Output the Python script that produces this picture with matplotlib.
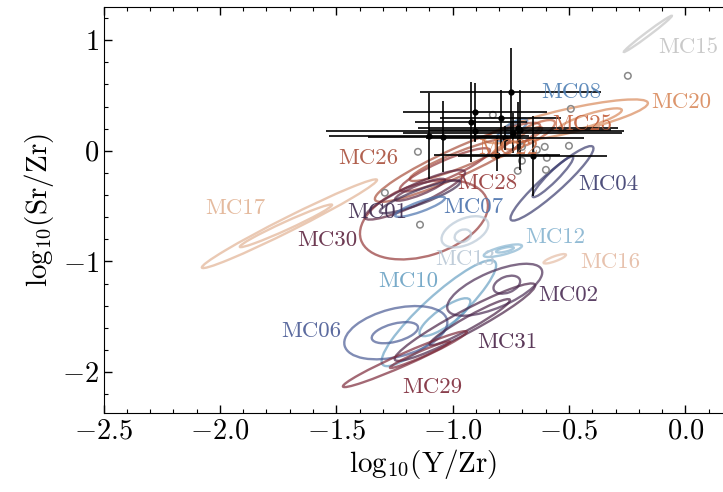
import numpy as np
import matplotlib.pyplot as plt
from matplotlib.patches import Ellipse
from matplotlib.transforms import IdentityTransform

plt.rcParams['font.family'] = 'serif'
plt.rcParams['font.serif'] = ['cmr10']
plt.rcParams['mathtext.fontset'] = 'cm'
plt.rcParams['axes.formatter.use_mathtext'] = True

# contour levels, approximated as ellipses: centre, tip of major axis, half width (px)
ct_id = [15, 20, 20, 8, 8, 25, 25, 22, 26, 26, 28, 28, 30, 30, 1, 17, 17, 4, 4,
         12, 12, 13, 13, 16, 10, 10, 6, 6, 2, 2, 31, 31, 29, 29, 7]
ct_cx = [-0.161, -0.511, -0.410, -0.745, -0.742, -0.668, -0.668, -0.776, -0.979, -0.969,
         -1.033, -1.123, -1.162, -1.140, -1.140, -1.701, -1.716, -0.573, -0.569,
         -0.784, -0.775, -0.947, -0.956, -0.561, -1.059, -1.033, -1.244, -1.248,
         -0.819, -0.767, -0.947, -0.926, -1.205, -1.140, -1.140]
ct_cy = [1.057, 0.266, 0.280, 0.190, 0.199, 0.145, 0.145, 0.009, -0.104, -0.081,
         -0.172, -0.623, -0.398, -0.352, -0.416, -0.659, -0.678, -0.294, -0.235,
         -0.903, -0.894, -0.732, -0.768, -0.976, -1.468, -1.504, -1.644, -1.644,
         -1.256, -1.210, -1.549, -1.549, -1.883, -1.843, -0.506]
ct_tx = [-0.058, -0.161, -0.273, -0.681, -0.711, -0.561, -0.616, -0.720, -0.625, -0.754,
         -0.840, -0.852, -0.947, -1.033, -0.968, -1.325, -1.518, -0.397, -0.483,
         -0.702, -0.737, -0.849, -0.922, -0.513, -0.818, -0.926, -1.024, -1.149,
         -0.617, -0.711, -0.646, -0.754, -0.939, -1.011, -1.033]
ct_ty = [1.220, 0.434, 0.370, 0.280, 0.235, 0.262, 0.208, 0.072, 0.235, 0.099,
         0.009, -0.443, -0.190, -0.262, -0.280, -0.262, -0.488, 0.036, -0.054,
         -0.858, -0.876, -0.641, -0.741, -0.939, -1.003, -1.346, -1.527, -1.590,
         -1.075, -1.165, -1.210, -1.346, -1.635, -1.725, -0.425]
ct_hw = [2, 12, 6, 6, 3, 8, 4, 5, 14, 8, 9, 36, 10, 5, 7, 7, 4, 10, 5,
         4, 2, 13, 6, 2.5, 17, 9, 24, 9, 18, 8, 11, 6, 6, 3, 5]

# cluster labels
lab_id = [15, 20, 8, 25, 22, 26, 28, 4, 17, 1, 7, 30, 12, 13, 16, 10, 2, 6, 31, 29]
lab_x = [0.011, -0.019, -0.488, -0.445, -0.763, -1.364, -0.853, -0.333, -1.935, -1.325,
         -0.909, -1.540, -0.561, -0.947, -0.324, -1.192, -0.505, -1.609, -0.763, -1.089]
lab_y = [0.940, 0.443, 0.533, 0.244, 0.027, -0.063, -0.289, -0.298, -0.515, -0.551,
         -0.506, -0.804, -0.777, -0.976, -1.003, -1.183, -1.310, -1.635, -1.734, -2.141]

# measured stars with errors
obs_x = [-0.751, -0.904, -0.793, -0.719, -0.741, -1.102, -1.042, -0.810, -0.655, -0.776,
         -0.711, -0.922, -0.904]
obs_y = [0.528, 0.352, 0.298, 0.208, 0.163, 0.136, 0.126, -0.036, -0.045, 0.117,
         0.190, 0.262, 0.181]
obs_xerr = [0.387, 0.31, 0.26, 0.43, 0.47, 0.43, 0.32, 0.27, 0.32, 0.34, 0.39, 0.24, 0.64]
obs_yerr = [0.40, 0.26, 0.25, 0.23, 0.18, 0.39, 0.32, 0.15, 0.36, 0.11, 0.36, 0.36, 0.10]

# other stars (open circles)
oth_x = [-0.247, -0.492, -0.500, -1.149, -1.291, -1.140, -0.827, -0.702, -0.604,
         -0.702, -0.720, -0.599, -0.638, -0.595]
oth_y = [0.678, 0.379, 0.045, -0.009, -0.379, -0.668, 0.325, 0.036, 0.036,
         -0.090, -0.181, -0.172, 0.009, -0.063]

colors = {1: '#3f2b4f', 2: '#4b2d55', 4: '#3b3c6e', 6: '#4a5b95', 7: '#4a72ad',
          8: '#4f80b5', 10: '#6aa2c4', 12: '#86b4d0', 13: '#b9c8d6', 15: '#c4c4c4',
          16: '#e5bca5', 17: '#e2b394', 20: '#d98a5c', 22: '#cc6f45', 25: '#c4603c',
          26: '#a9503c', 28: '#953838', 29: '#7d2a3a', 30: '#5e2540', 31: '#4a2448'}

fig = plt.figure(figsize=(7.23, 4.92), dpi=100)
ax = fig.add_axes([103.5 / 723, 79 / 492, 640 / 723, 406 / 492])
ax.set_xlim(-2.5, 0.25)
ax.set_ylim(-2.37, 1.30)

for k in range(len(ct_id)):
    c = ax.transData.transform((ct_cx[k], ct_cy[k]))
    t = ax.transData.transform((ct_tx[k], ct_ty[k]))
    d = t - c
    L = np.hypot(d[0], d[1])
    ang = np.degrees(np.arctan2(d[1], d[0]))
    e = Ellipse(c, 2 * L, 2 * ct_hw[k], angle=ang, transform=IdentityTransform(),
                fill=False, ec=colors[ct_id[k]], lw=1.7, alpha=0.7, zorder=2)
    ax.add_patch(e)

ax.errorbar(obs_x, obs_y, xerr=obs_xerr, yerr=obs_yerr, fmt='o', color='black',
            ms=3.5, elinewidth=1.2, capsize=0, zorder=4)
ax.scatter(oth_x, oth_y, s=22, facecolors='none', edgecolors='#888888', lw=1.1, zorder=3)

for n, x, y in zip(lab_id, lab_x, lab_y):
    ax.text(x, y, 'MC%02d' % n, color=colors[n], fontsize=16.5,
            ha='center', va='center', alpha=0.9, zorder=5)

ax.set_xticks([-2.5, -2.0, -1.5, -1.0, -0.5, 0.0])
ax.set_yticks([-2, -1, 0, 1])
ax.xaxis.set_minor_locator(plt.MultipleLocator(0.1))
ax.yaxis.set_minor_locator(plt.MultipleLocator(0.2))
ax.tick_params(which='both', direction='in', top=True, right=True, labelsize=20.5)
ax.tick_params(which='major', length=6, width=1)
ax.tick_params(which='minor', length=3, width=0.8)
ax.set_xlabel(r'$\mathrm{log}_{10}(\mathrm{Y/Zr})$', fontsize=21, labelpad=2)
ax.set_ylabel(r'$\mathrm{log}_{10}(\mathrm{Sr/Zr})$', fontsize=21, labelpad=4)

fig.savefig('out.png', dpi=100)
